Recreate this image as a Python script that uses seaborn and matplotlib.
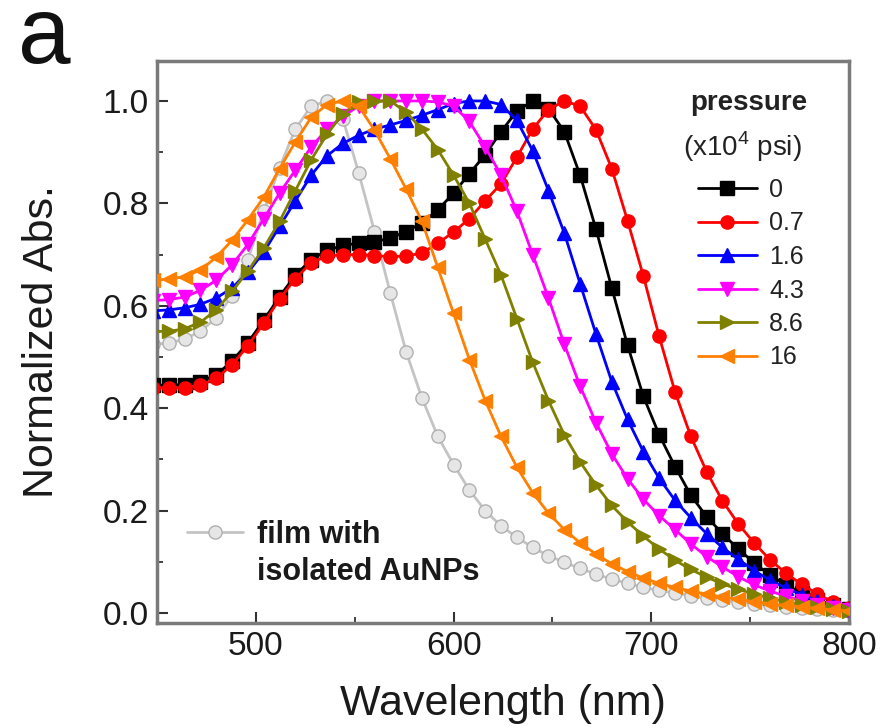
import matplotlib
matplotlib.use("Agg")
import matplotlib.pyplot as plt
import seaborn as sns
from matplotlib.lines import Line2D
from matplotlib.ticker import MultipleLocator, FormatStrFormatter

# ---------------- data ----------------
wavelength = [448, 456, 464, 472, 480, 488, 496, 504, 512, 520, 528, 536, 544, 552, 560,
              568, 576, 584, 592, 600, 608, 616, 624, 632, 640, 648, 656, 664, 672, 680,
              688, 696, 704, 712, 720, 728, 736, 744, 752, 760, 768, 776, 784, 792, 800]

abs_p0 = [0.445, 0.445, 0.446, 0.452, 0.465, 0.492, 0.528, 0.572, 0.618, 0.660, 0.690,
          0.708, 0.718, 0.722, 0.725, 0.732, 0.745, 0.762, 0.787, 0.820, 0.858, 0.895,
          0.940, 0.980, 1.000, 0.985, 0.940, 0.855, 0.750, 0.635, 0.523, 0.423, 0.348,
          0.286, 0.230, 0.188, 0.155, 0.125, 0.098, 0.074, 0.055, 0.039, 0.026, 0.015, 0.008]

abs_p07 = [0.440, 0.440, 0.440, 0.445, 0.458, 0.485, 0.522, 0.566, 0.613, 0.653, 0.684,
           0.697, 0.700, 0.700, 0.698, 0.696, 0.697, 0.703, 0.722, 0.744, 0.770, 0.805,
           0.838, 0.890, 0.945, 0.983, 1.000, 0.990, 0.944, 0.868, 0.766, 0.658, 0.540,
           0.432, 0.345, 0.276, 0.219, 0.174, 0.137, 0.104, 0.078, 0.056, 0.037, 0.021, 0.010]

abs_p16 = [0.590, 0.592, 0.596, 0.603, 0.615, 0.635, 0.665, 0.705, 0.755, 0.805, 0.855,
           0.893, 0.917, 0.933, 0.945, 0.953, 0.962, 0.972, 0.983, 0.995, 1.000, 1.000,
           0.993, 0.962, 0.903, 0.825, 0.742, 0.643, 0.545, 0.452, 0.378, 0.315, 0.263,
           0.220, 0.186, 0.155, 0.128, 0.105, 0.083, 0.064, 0.049, 0.036, 0.024, 0.014, 0.007]

abs_p43 = [0.610, 0.612, 0.617, 0.630, 0.650, 0.680, 0.720, 0.770, 0.820, 0.865, 0.910,
           0.945, 0.970, 0.990, 1.000, 1.000, 1.000, 1.000, 0.998, 0.990, 0.960, 0.910,
           0.855, 0.785, 0.700, 0.615, 0.525, 0.443, 0.372, 0.311, 0.262, 0.222, 0.190,
           0.163, 0.135, 0.110, 0.090, 0.071, 0.055, 0.043, 0.033, 0.024, 0.016, 0.010, 0.005]

abs_p86 = [0.550, 0.550, 0.555, 0.568, 0.592, 0.628, 0.668, 0.713, 0.765, 0.825, 0.885,
           0.935, 0.975, 0.997, 1.000, 1.000, 0.978, 0.945, 0.905, 0.855, 0.800, 0.730,
           0.660, 0.575, 0.490, 0.415, 0.348, 0.295, 0.250, 0.210, 0.178, 0.150, 0.125,
           0.103, 0.085, 0.070, 0.057, 0.046, 0.037, 0.029, 0.022, 0.016, 0.011, 0.007, 0.004]

abs_p160 = [0.650, 0.652, 0.657, 0.670, 0.695, 0.728, 0.768, 0.812, 0.868, 0.920, 0.968,
            0.993, 1.000, 0.990, 0.943, 0.887, 0.828, 0.765, 0.675, 0.585, 0.495, 0.415,
            0.345, 0.285, 0.235, 0.195, 0.163, 0.137, 0.115, 0.096, 0.081, 0.068, 0.058,
            0.050, 0.043, 0.037, 0.031, 0.027, 0.022, 0.018, 0.015, 0.012, 0.009, 0.006, 0.004]

abs_film = [0.525, 0.527, 0.535, 0.550, 0.577, 0.620, 0.690, 0.785, 0.870, 0.945, 0.990,
            1.000, 0.965, 0.860, 0.745, 0.625, 0.510, 0.420, 0.345, 0.290, 0.240, 0.200,
            0.170, 0.148, 0.128, 0.112, 0.099, 0.087, 0.076, 0.066, 0.058, 0.050, 0.044,
            0.039, 0.034, 0.029, 0.025, 0.021, 0.018, 0.015, 0.012, 0.009, 0.007, 0.005, 0.003]

pressure_labels = ["0", "0.7", "1.6", "4.3", "8.6", "16"]
film_label_lines = ["film with", "isolated AuNPs"]
legend_title_1 = "pressure"
legend_title_2 = "(x10$^{\\mathregular{4}}$ psi)"
panel_label = "a"
x_ticks = [500, 600, 700, 800]
y_ticks = [0.0, 0.2, 0.4, 0.6, 0.8, 1.0]

# ---------------- style ----------------
sns.set_theme(style="ticks")
plt.rcParams["font.family"] = ["Liberation Sans", "DejaVu Sans"]
plt.rcParams["mathtext.fontset"] = "custom"
plt.rcParams["mathtext.rm"] = "Liberation Sans"

W, H = 884, 727
fig = plt.figure(figsize=(W / 100, H / 100), dpi=100)
ax_l, ax_r, ax_t, ax_b = 157, 849, 61, 623
ax = fig.add_axes([ax_l / W, 1 - ax_b / H, (ax_r - ax_l) / W, (ax_b - ax_t) / H])

series = [
    (abs_film, "#c4c4c4", "o", "#e6e6e6", "#b0b0b0"),
    (abs_p0, "#000000", "s", "#000000", "#000000"),
    (abs_p07, "#ff0000", "o", "#ff0000", "#ff0000"),
    (abs_p16, "#0000ff", "^", "#0000ff", "#0000ff"),
    (abs_p43, "#ff00ff", "v", "#ff00ff", "#ff00ff"),
    (abs_p86, "#808000", ">", "#808000", "#808000"),
    (abs_p160, "#ff8000", "<", "#ff8000", "#ff8000"),
]

handles = []
for i, (vals, col, mk, fc, ec) in enumerate(series):
    sns.lineplot(x=wavelength, y=vals, ax=ax, color=col, marker=mk, markersize=9.5,
                 markerfacecolor=fc, markeredgecolor=ec, markeredgewidth=1.0,
                 linewidth=2.0, legend=False, zorder=2 + i)
    handles.append(Line2D([], [], color=col, marker=mk, markersize=9.5,
                          markerfacecolor=fc, markeredgecolor=ec, linewidth=2.0))

ax.set_xlim(450, 800)
ax.set_ylim(-0.0195, 1.078)
ax.xaxis.set_major_locator(MultipleLocator(100))
ax.xaxis.set_minor_locator(MultipleLocator(50))
ax.yaxis.set_major_locator(MultipleLocator(0.2))
ax.yaxis.set_minor_locator(MultipleLocator(0.1))
ax.set_xticks(x_ticks)
ax.set_yticks(y_ticks)
ax.yaxis.set_major_formatter(FormatStrFormatter("%.1f"))

for s in ax.spines.values():
    s.set_color("#7a7a7a")
    s.set_linewidth(2.5)
ax.tick_params(axis="both", which="major", direction="in", length=8, width=1.5,
               color="#333333", labelsize=24, pad=6, labelcolor="#1a1a1a",
               top=False, right=False)
ax.tick_params(axis="both", which="minor", direction="in", length=4, width=1.3,
               color="#333333", top=False, right=False)

ax.set_xlabel("Wavelength (nm)", fontsize=31, color="#1a1a1a")
ax.set_ylabel("Normalized Abs.", fontsize=31, color="#1a1a1a")
ax.xaxis.set_label_coords(0.5, (ax_b - 684) / (ax_b - ax_t))
ax.yaxis.set_label_coords((62 - ax_l) / (ax_r - ax_l), 0.5)
ax.xaxis.label.set_va("top")

# pressure legend
leg1 = ax.legend(handles=handles[1:], labels=pressure_labels, loc="upper left",
                 bbox_to_anchor=(698 / W, 1 - 178 / H), bbox_transform=fig.transFigure,
                 frameon=False, fontsize=18, handlelength=2.35, handletextpad=0.5,
                 labelspacing=0.38, borderpad=0, borderaxespad=0)
for t in leg1.get_texts():
    t.set_color("#222222")
ax.add_artist(leg1)
fig.text(749 / W, 1 - 103 / H, legend_title_1, fontsize=20, fontweight="bold",
         ha="center", va="center", color="#222222")
fig.text(742 / W, 1 - 147 / H, legend_title_2, fontsize=20,
         ha="center", va="center", color="#222222")

# film legend
blank = Line2D([], [], linestyle="none", marker=None)
leg2 = ax.legend(handles=[handles[0], blank], labels=film_label_lines, loc="upper left",
                 bbox_to_anchor=(187 / W, 1 - 520 / H), bbox_transform=fig.transFigure,
                 frameon=False, fontsize=22, handlelength=1.83, handletextpad=0.46,
                 labelspacing=0.22, borderpad=0, borderaxespad=0)
for t in leg2.get_texts():
    t.set_fontweight("bold")
    t.set_color("#1a1a1a")

fig.text(18 / W, 1 - 63 / H, panel_label, fontsize=68, ha="left", va="baseline",
         color="#111111")

fig.savefig("out.png", dpi=100)
